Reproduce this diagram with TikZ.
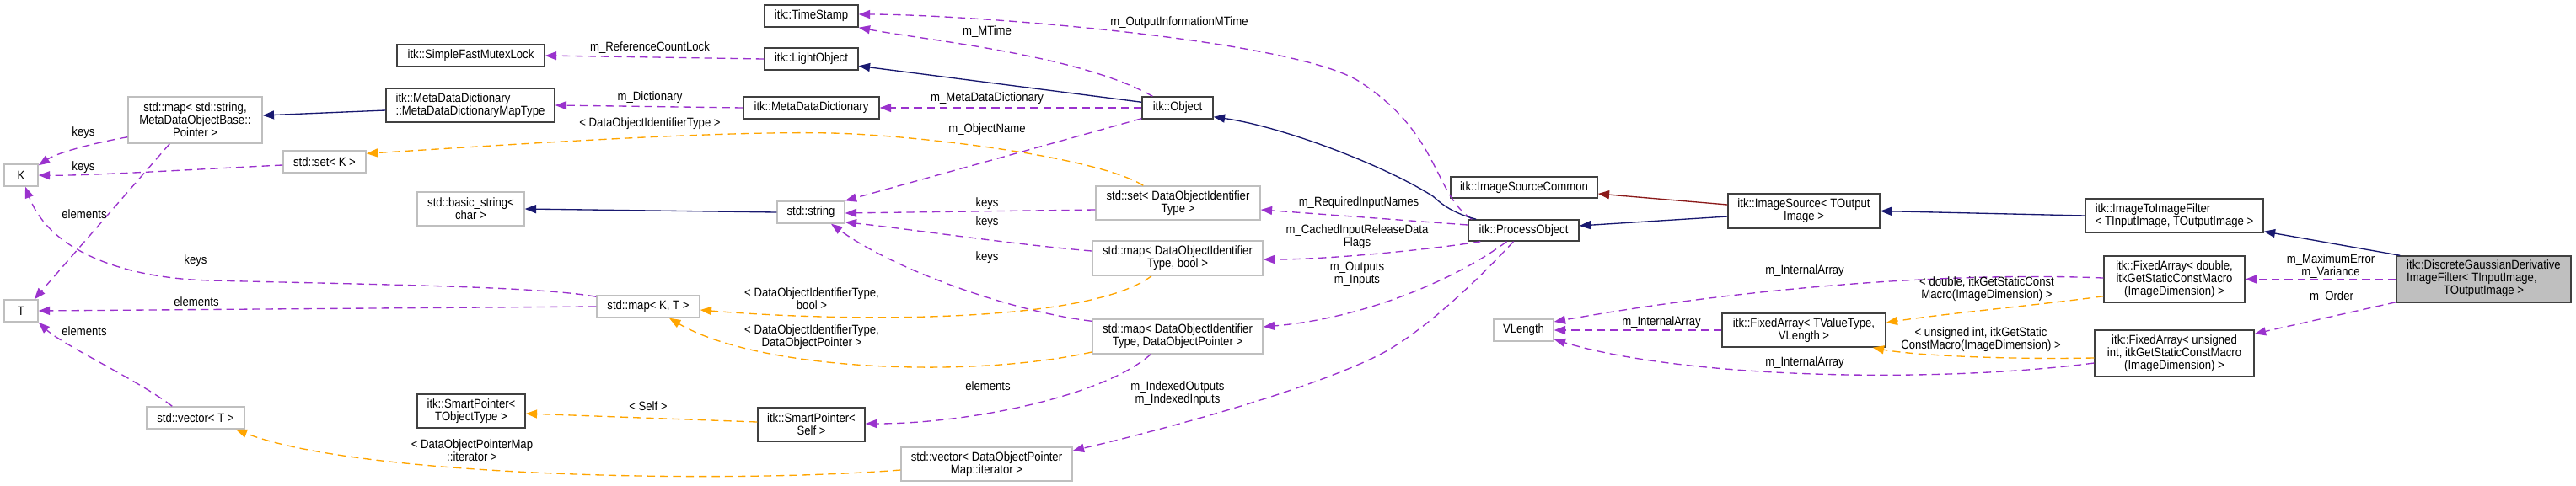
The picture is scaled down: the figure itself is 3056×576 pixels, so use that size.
\documentclass[tikz,border=0pt]{standalone}
\usepackage{fontspec}
\newfontfamily\nfont[FakeStretch=0.88]{Liberation Sans}
\newcommand\dfont{\nfont\fontsize{11.2}{11.25}\selectfont}
\usetikzlibrary{arrows.meta,calc}
\definecolor{docb}{RGB}{64,64,64}
\definecolor{undocb}{RGB}{191,191,191}
\definecolor{mainfill}{RGB}{191,191,191}
\definecolor{mblue}{RGB}{25,25,112}
\definecolor{fbrick}{RGB}{139,26,26}
\definecolor{purp}{RGB}{154,50,205}
\definecolor{orng}{RGB}{255,165,0}
\tikzset{
  box/.style={draw=docb, line width=1.1pt, fill=white, inner sep=0pt, align=center, font=\dfont},
  ubox/.style={box, draw=undocb},
  wh/.style 2 args={minimum width=#1*0.75pt, minimum height=#2*0.75pt},
  lbl/.style={inner sep=0pt, align=center, font=\dfont},
  tip/.style={-{Triangle[length=10pt,width=7.5pt]}},
  usedge/.style={tip, draw=purp, line width=1pt, dash pattern=on 7pt off 4.5pt},
  tpledge/.style={tip, draw=orng, line width=1pt, dash pattern=on 7pt off 4.5pt},
  inhedge/.style={tip, draw=mblue, line width=1pt},
  pinhedge/.style={tip, draw=fbrick, line width=1pt},
}
\begin{document}
\begin{tikzpicture}[x=0.75pt,y=-0.75pt]
\useasboundingbox (0,0) rectangle (3056,576);
\fill[white] (0,0) rectangle (3056,576);
% nodes
\node[box,wh={175}{26}] (sfml) at (558.5,66) {itk::SimpleFastMutexLock};
\node[box,wh={200}{40},align=left] (mdmt) at (558,125) {itk::MetaDataDictionary\\::MetaDataDictionaryMapType};
\node[ubox,wh={159}{55}] (mapss) at (231.5,142.5) {std::map< std::string,\\MetaDataObjectBase::\\Pointer >};
\node[ubox,wh={40}{26}] (k) at (25,208) {K};
\node[ubox,wh={98}{26}] (setk) at (385,192) {std::set< K >};
\node[ubox,wh={127}{40}] (bstr) at (558.5,248) {std::basic\_string<\\char >};
\node[ubox,wh={40}{26}] (t) at (25,369) {T};
\node[ubox,wh={116}{26}] (vect) at (232,496) {std::vector< T >};
\node[box,wh={128}{40}] (spt) at (559,488) {itk::SmartPointer<\\TObjectType >};
\node[box,wh={111}{26}] (ts) at (962.5,19) {itk::TimeStamp};
\node[box,wh={111}{26}] (lo) at (962.5,70) {itk::LightObject};
\node[box,wh={161}{26}] (mdd) at (962.5,128) {itk::MetaDataDictionary};
\node[ubox,wh={80}{26}] (str) at (962,252) {std::string};
\node[ubox,wh={122}{26}] (mapkt) at (769,364) {std::map< K, T >};
\node[box,wh={127}{40}] (spself) at (962.5,504) {itk::SmartPointer<\\Self >};
\node[ubox,wh={203}{40}] (vecp) at (1170.5,551) {std::vector< DataObjectPointer\\Map::iterator >};
\node[box,wh={84}{26}] (obj) at (1397,128) {itk::Object};
\node[ubox,wh={195}{40}] (setd) at (1397.5,241) {std::set< DataObjectIdentifier\\Type >};
\node[ubox,wh={202}{41}] (mapb) at (1397,306.5) {std::map< DataObjectIdentifier\\Type, bool >};
\node[ubox,wh={202}{41}] (mapp) at (1397,399.5) {std::map< DataObjectIdentifier\\Type, DataObjectPointer >};
\node[box,wh={174}{25}] (isc) at (1808,222.5) {itk::ImageSourceCommon};
\node[box,wh={131}{25}] (po) at (1807.5,273.5) {itk::ProcessObject};
\node[ubox,wh={71}{26}] (vl) at (1807.5,392) {VLength};
\node[box,wh={180}{41}] (is) at (2140,250.5) {itk::ImageSource< TOutput\\Image >};
\node[box,wh={194}{40}] (fat) at (2140,392) {itk::FixedArray< TValueType,\\VLength >};
\node[box,wh={211}{40},align=left] (itif) at (2579.5,256) {itk::ImageToImageFilter\\< TInputImage, TOutputImage >};
\node[box,wh={167}{55}] (fad) at (2579.5,331.5) {itk::FixedArray< double,\\itkGetStaticConstMacro\\(ImageDimension) >};
\node[box,wh={189}{55}] (fau) at (2579.5,419.5) {itk::FixedArray< unsigned\\int, itkGetStaticConstMacro\\(ImageDimension) >};
\node[box,fill=mainfill,wh={207}{55}] (dg) at (2946.5,331.5) {\begin{tabular}{@{}l@{}}itk::DiscreteGaussianDerivative\\ImageFilter< TInputImage,\\\multicolumn{1}{@{}c@{}}{TOutputImage >}\end{tabular}};
% edges
\draw[usedge] (lo.west) -- (sfml.east);
\draw[inhedge] ($(obj.north west)+(0,7)$) -- ($(lo.north east)+(0,22)$);
\draw[usedge] ($(obj.north west)+(13,0)$) .. controls (1280,65) and (1100,48) .. (ts.south east);
\draw[usedge] ($(po.north west)+(5,0)$) .. controls (1700,230) and (1710,160) .. (1613,97) .. controls (1535,47) and (1150,17) .. ($(ts.east)+(0,-2)$);
\draw[usedge] (obj.west) -- (mdd.east);
\draw[usedge] (mdd.west) -- (mdmt.east);
\draw[inhedge] ($(mdmt.west)+(0,6)$) -- ($(mapss.east)+(0,-5.5)$);
\draw[usedge] ($(mapss.south west)+(0,-8)$) .. controls (120,168) and (70,180) .. ($(k.north east)+(0,2)$);
\draw[usedge] ($(setk.west)+(0,4)$) .. controls (250,200) and (100,209) .. (k.east);
\draw[usedge] ($(mapss.south west)+(50,0)$) -- ($(t.north east)+(-5,0)$);
\draw[usedge] ($(mapkt.north west)+(0,2)$) .. controls (640,340) and (450,338) .. (250,333) .. controls (150,330.5) and (60,300) .. ($(k.south)+(5,0)$);
\draw[usedge] (mapkt.west) -- (t.east);
\draw[usedge] ($(vect.north west)+(31,0)$) .. controls (165,452) and (75,410) .. (t.south east);
\draw[tpledge] ($(setd.north west)+(57,0)$) .. controls (1300,185) and (1080,160) .. (986,158) .. controls (850,155) and (600,172) .. ($(setk.north east)+(0,4)$);
\draw[inhedge] (str.west) -- (bstr.east);
\draw[usedge] ($(obj.south west)+(0,-1)$) -- (str.north east);
\draw[usedge] ($(setd.west)+(0,8)$) -- ($(str.east)+(0,1)$);
\draw[usedge] ($(mapb.west)+(0,-8.5)$) .. controls (1200,290) and (1080,272) .. ($(str.south east)+(0,-2)$);
\draw[usedge] ($(mapp.north west)+(0,3)$) .. controls (1200,370) and (1060,320) .. ($(str.south)+(24,0)$);
\draw[tpledge] ($(mapb.south)+(-31,0)$) .. controls (1290,385) and (1000,382) .. ($(mapkt.east)+(0,4)$);
\draw[tpledge] ($(mapp.west)+(0,18.5)$) .. controls (1150,450) and (900,440) .. ($(mapkt.south)+(25,0)$);
\draw[tpledge] ($(spself.west)+(0,-3)$) -- ($(spt.east)+(0,3)$);
\draw[usedge] ($(mapp.south)+(-32,0)$) .. controls (1310,470) and (1150,503) .. ($(spself.east)+(0,-1)$);
\draw[tpledge] ($(vecp.west)+(0,7)$) .. controls (850,575) and (420,565) .. ($(vect.south east)+(-11,0)$);
\draw[usedge] ($(po.west)+(0,-6.5)$) -- ($(setd.east)+(0,8)$);
\draw[usedge] ($(po.south west)+(15,0)$) .. controls (1720,293) and (1590,308) .. ($(mapb.east)+(0,1.5)$);
\draw[usedge] ($(po.south)+(-20,0)$) .. controls (1730,330) and (1620,378) .. ($(mapp.east)+(0,-11.5)$);
\draw[usedge] ($(po.south)+(-12,0)$) .. controls (1760,325) and (1690,395) .. (1633,423) .. controls (1547,465) and (1380,510) .. ($(vecp.east)+(0,-16)$);
\draw[inhedge] ($(po.north west)+(10,0)$) .. controls (1720,252) and (1708,240) .. (1700,233) .. controls (1640,195) and (1520,150) .. ($(obj.south east)+(0,-3)$);
\draw[pinhedge] ($(is.west)+(0,-7.5)$) -- ($(isc.east)+(0,7.5)$);
\draw[inhedge] ($(is.west)+(0,6.5)$) -- ($(po.east)+(0,-5.5)$);
\draw[inhedge] (itif.west) -- (is.east);
\draw[inhedge] ($(dg.north west)+(5,0)$) -- ($(itif.south east)+(0,-2)$);
\draw[usedge] (dg.west) -- (fad.east);
\draw[usedge] ($(dg.south west)+(0,-1)$) -- ($(fau.north east)+(0,5)$);
\draw[usedge] ($(fad.west)+(0,-1.5)$) .. controls (2300,322) and (2050,345) .. ($(vl.east)+(0,-10)$);
\draw[usedge] (fat.west) -- (vl.east);
\draw[usedge] ($(fau.west)+(0,11.5)$) .. controls (2300,455) and (2000,450) .. ($(vl.east)+(0,11)$);
\draw[tpledge] ($(fad.south west)+(0,-8)$) .. controls (2420,362) and (2310,372) .. ($(fat.east)+(0,-9)$);
\draw[tpledge] ($(fau.west)+(0,5.5)$) .. controls (2380,427) and (2270,422) .. ($(fat.south east)+(-16,0)$);
% labels
\node[lbl] (l1) at (771,57) {m\_ReferenceCountLock};
\node[lbl] (l2) at (1171,38) {m\_MTime};
\node[lbl] (l3) at (1399,27) {m\_OutputInformationMTime};
\node[lbl] (l4) at (1171,117) {m\_MetaDataDictionary};
\node[lbl] (l5) at (771,116) {m\_Dictionary};
\node[lbl] (l6) at (771,147) {< DataObjectIdentifierType >};
\node[lbl] (l7) at (1171,154) {m\_ObjectName};
\node[lbl] (l8) at (99,158) {keys};
\node[lbl] (l9) at (99,199) {keys};
\node[lbl] (l10) at (100,254) {elements};
\node[lbl] (l11) at (232,310) {keys};
\node[lbl] (l12) at (233,358) {elements};
\node[lbl] (l13) at (100,393) {elements};
\node[lbl] (l14) at (1171,242) {keys};
\node[lbl] (l15) at (1171,264) {keys};
\node[lbl] (l16) at (1171,306) {keys};
\node[lbl] (l17) at (963,355) {< DataObjectIdentifierType,\\bool >};
\node[lbl] (l18) at (963,400) {< DataObjectIdentifierType,\\DataObjectPointer >};
\node[lbl] (l19) at (769,482) {< Self >};
\node[lbl] (l20) at (1172,458) {elements};
\node[lbl] (l21) at (560,535) {< DataObjectPointerMap\\::iterator >};
\node[lbl] (l22) at (1612,241) {m\_RequiredInputNames};
\node[lbl] (l23) at (1610,281) {m\_CachedInputReleaseData\\Flags};
\node[lbl] (l24) at (1610,325) {m\_Outputs\\m\_Inputs};
\node[lbl] (l25) at (1397,467) {m\_IndexedOutputs\\m\_IndexedInputs};
\node[lbl] (l26) at (2765,316) {m\_MaximumError\\m\_Variance};
\node[lbl] (l27) at (2766,353) {m\_Order};
\node[lbl] (l28) at (2141,322) {m\_InternalArray};
\node[lbl] (l29) at (1971,383) {m\_InternalArray};
\node[lbl] (l30) at (2141,431) {m\_InternalArray};
\node[lbl] (l31) at (2357,343) {< double, itkGetStaticConst\\Macro(ImageDimension) >};
\node[lbl] (l32) at (2350,403) {< unsigned int, itkGetStatic\\ConstMacro(ImageDimension) >};
\end{tikzpicture}
\end{document}
